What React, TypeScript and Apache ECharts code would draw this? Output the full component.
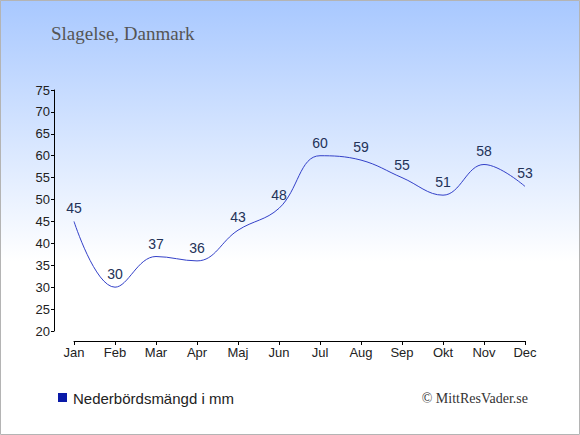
import React, { useEffect, useRef } from "react";
import * as echarts from "echarts";

const months = ["Jan", "Feb", "Mar", "Apr", "Maj", "Jun", "Jul", "Aug", "Sep", "Okt", "Nov", "Dec"];
const precipitation = [45, 30, 37, 36, 43, 48, 60, 59, 55, 51, 58, 53];
const titleText = "Slagelse, Danmark";
const legendText = "Nederbördsmängd i mm";
const copyrightText = "© MittResVader.se";

export default function App() {
  const ref = useRef<HTMLDivElement>(null);
  useEffect(() => {
    if (!ref.current) return;
    const chart = echarts.init(ref.current, null, { renderer: "svg" });
    chart.setOption({
      animation: false,
      backgroundColor: {
        type: "linear",
        x: 0,
        y: 0,
        x2: 0,
        y2: 1,
        colorStops: [
          { offset: 0, color: "#a8c8ff" },
          { offset: 0.6, color: "#ffffff" },
          { offset: 1, color: "#ffffff" },
        ],
      },
      grid: { left: 74, right: 55, top: 90, bottom: 104, containLabel: false },
      xAxis: {
        type: "category",
        data: months,
        boundaryGap: false,
        offset: 10,
        axisLine: { show: true, lineStyle: { color: "#000", width: 1 } },
        axisTick: { show: true, alignWithLabel: true, length: 4, lineStyle: { color: "#000" } },
        axisLabel: { color: "#222", fontSize: 13, fontFamily: "Liberation Sans, Arial, sans-serif", margin: 5, interval: 0 },
        splitLine: { show: false },
      },
      yAxis: {
        type: "value",
        min: 20,
        max: 75,
        interval: 5,
        offset: 20,
        axisLine: { show: true, lineStyle: { color: "#000", width: 1 } },
        axisTick: { show: true, length: 3, lineStyle: { color: "#000" } },
        axisLabel: { color: "#222", fontSize: 13, fontFamily: "Liberation Sans, Arial, sans-serif", margin: 4 },
        splitLine: { show: false },
      },
      series: [
        {
          type: "line",
          data: precipitation,
          smooth: 0.4,
          symbol: "circle",
          symbolSize: 2,
          showSymbol: true,
          itemStyle: { color: "rgba(0,0,0,0)" },
          lineStyle: { color: "#3340c8", width: 1 },
          label: {
            show: true,
            position: "top",
            distance: 5,
            color: "#233258",
            fontSize: 14,
            fontFamily: "Liberation Sans, Arial, sans-serif",
          },
          labelLayout: { hideOverlap: false },
        },
      ],
      graphic: [
        {
          type: "rect",
          shape: { x: 0.5, y: 0.5, width: 579, height: 434 },
          style: { fill: "none", stroke: "#b4b4b4", lineWidth: 1 },
          silent: true,
        },
        {
          type: "text",
          x: 51,
          y: 33,
          style: {
            text: titleText,
            fill: "#555555",
            font: "19px 'Liberation Serif', 'DejaVu Serif', serif",
            textVerticalAlign: "middle",
          },
        },
        {
          type: "rect",
          shape: { x: 58, y: 393, width: 9, height: 9 },
          style: { fill: "#0a1aa8" },
        },
        {
          type: "text",
          x: 73,
          y: 398,
          style: {
            text: legendText,
            fill: "#222",
            font: "15px 'Liberation Sans', Arial, sans-serif",
            textVerticalAlign: "middle",
          },
        },
        {
          type: "text",
          x: 528,
          y: 398,
          style: {
            text: copyrightText,
            fill: "#333",
            font: "14px 'Liberation Serif', 'DejaVu Serif', serif",
            textAlign: "right",
            textVerticalAlign: "middle",
          },
        },
      ],
    });
    return () => chart.dispose();
  }, []);
  return (
    <div
      ref={ref}
      style={{ position: "fixed", left: 0, top: 0, width: 580, height: 435 }}
    />
  );
}
